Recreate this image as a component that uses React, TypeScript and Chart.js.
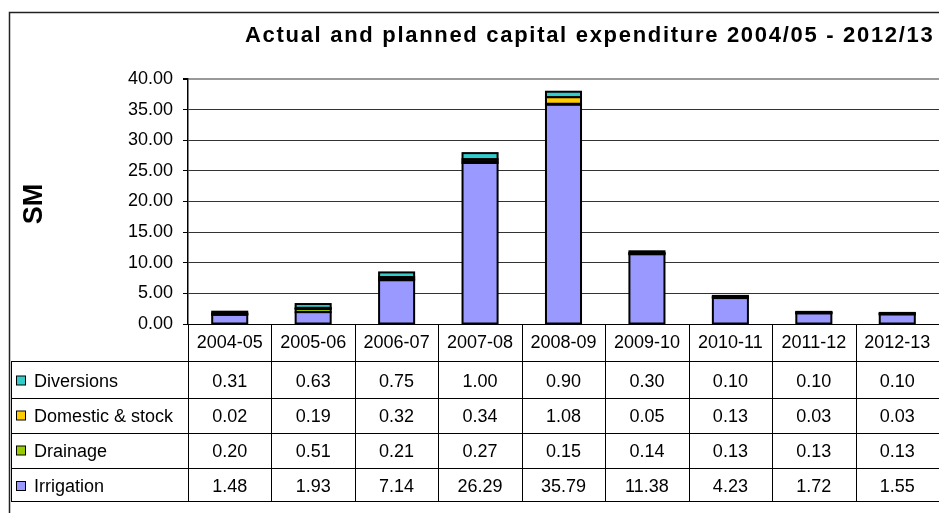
import React, { useEffect, useRef } from "react";
import { Chart, registerables } from "chart.js";

Chart.register(...registerables);

const categories = ["2004-05", "2005-06", "2006-07", "2007-08", "2008-09", "2009-10", "2010-11", "2011-12", "2012-13"];
const diversions = [0.31, 0.63, 0.75, 1.0, 0.9, 0.3, 0.1, 0.1, 0.1];
const domesticStock = [0.02, 0.19, 0.32, 0.34, 1.08, 0.05, 0.13, 0.03, 0.03];
const drainage = [0.2, 0.51, 0.21, 0.27, 0.15, 0.14, 0.13, 0.13, 0.13];
const irrigation = [1.48, 1.93, 7.14, 26.29, 35.79, 11.38, 4.23, 1.72, 1.55];

const titleText = "Actual and planned capital expenditure 2004/05 - 2012/13";
const yAxisTitle = "SM";

const FONT = "'Liberation Sans', Arial, sans-serif";

const tableRows = [
  { label: "Diversions", values: diversions, color: "#33CCCC" },
  { label: "Domestic & stock", values: domesticStock, color: "#FFCC00" },
  { label: "Drainage", values: drainage, color: "#99CC00" },
  { label: "Irrigation", values: irrigation, color: "#9999FF" },
];

const barOutlinePlugin = {
  id: "barOutline",
  afterDatasetDraw(chart: any, args: any) {
    const ctx = chart.ctx as CanvasRenderingContext2D;
    const meta = args.meta;
    ctx.save();
    ctx.strokeStyle = "#000";
    ctx.lineWidth = 2;
    for (const el of meta.data) {
      const p = el.getProps(["x", "y", "base", "width"], true);
      const top = Math.min(p.y, p.base);
      const h = Math.abs(p.base - p.y);
      ctx.strokeRect(p.x - p.width / 2, top, p.width, h);
    }
    ctx.restore();
  },
};

const decorPlugin = {
  id: "decor",
  afterDraw(chart: any) {
    const ctx = chart.ctx as CanvasRenderingContext2D;
    const area = chart.chartArea;
    const W = chart.width;
    ctx.save();
    // outer frame
    ctx.strokeStyle = "#222";
    ctx.lineWidth = 1.5;
    ctx.beginPath();
    ctx.moveTo(9.5, 600);
    ctx.lineTo(9.5, 12.5);
    ctx.lineTo(W + 10, 12.5);
    ctx.stroke();

    // title
    ctx.fillStyle = "#000";
    ctx.font = `bold 22px ${FONT}`;
    (ctx as any).letterSpacing = "1.7px";
    ctx.textAlign = "left";
    ctx.textBaseline = "alphabetic";
    ctx.fillText(titleText, 245, 42);
    (ctx as any).letterSpacing = "0px";

    // y axis title
    ctx.save();
    ctx.translate(42, 204);
    ctx.rotate(-Math.PI / 2);
    ctx.font = `bold 27px ${FONT}`;
    ctx.textAlign = "center";
    ctx.fillText(yAxisTitle, 0, 0);
    ctx.restore();

    // data table
    const n = categories.length;
    const colW = (area.right - area.left) / n;
    const rowLines = [361, 398, 433, 468, 501];
    const baselines = [386.5, 421.5, 456.5, 492];
    ctx.strokeStyle = "#000";
    ctx.lineWidth = 1;
    ctx.beginPath();
    for (let i = 0; i < n; i++) {
      const x = Math.round(area.left + i * colW) + 0.5;
      ctx.moveTo(x, area.bottom);
      ctx.lineTo(x, 501);
    }
    for (const y of rowLines) {
      ctx.moveTo(11, y + 0.5);
      ctx.lineTo(W, y + 0.5);
    }
    ctx.moveTo(11.5, 361);
    ctx.lineTo(11.5, 501);
    ctx.stroke();

    ctx.font = `18px ${FONT}`;
    ctx.textAlign = "center";
    ctx.fillStyle = "#000";
    for (let i = 0; i < n; i++) {
      const cx = area.left + (i + 0.5) * colW;
      ctx.fillText(categories[i], cx, 348);
    }
    tableRows.forEach((row, r) => {
      const by = baselines[r];
      ctx.textAlign = "center";
      ctx.fillStyle = "#000";
      for (let i = 0; i < n; i++) {
        const cx = area.left + (i + 0.5) * colW;
        ctx.fillText(row.values[i].toFixed(2), cx, by);
      }
      ctx.fillStyle = row.color;
      ctx.fillRect(16.5, by - 10.5, 9, 9);
      ctx.strokeStyle = "#000";
      ctx.strokeRect(16.5, by - 10.5, 9, 9);
      ctx.fillStyle = "#000";
      ctx.textAlign = "left";
      ctx.fillText(row.label, 34, by);
    });
    ctx.restore();
  },
};

export default function App() {
  const ref = useRef<HTMLCanvasElement | null>(null);
  useEffect(() => {
    if (!ref.current) return;
    const stackOrder = [...tableRows].reverse();
    const chart = new Chart(ref.current, {
      type: "bar",
      data: {
        labels: categories,
        datasets: stackOrder.map((r) => ({
          label: r.label,
          data: r.values,
          backgroundColor: r.color,
          borderWidth: 0,
          barPercentage: 0.42,
          categoryPercentage: 1,
        })),
      },
      options: {
        responsive: false,
        animation: false,
        layout: { padding: { left: 9, top: 79, right: 0, bottom: 0 } },
        plugins: { legend: { display: false }, tooltip: { enabled: false }, title: { display: false } },
        scales: {
          x: {
            stacked: true,
            grid: { display: false },
            border: { display: true, color: "#000", width: 1 },
            ticks: { display: false },
            afterFit: (s: any) => {
              s.height = 189;
            },
          },
          y: {
            stacked: true,
            min: 0,
            max: 40,
            ticks: {
              stepSize: 5,
              color: "#000",
              padding: 10,
              font: { family: FONT, size: 18 },
              callback: (v: any) => Number(v).toFixed(2),
            },
            grid: {
              color: (c: any) => (c.tick && c.tick.value === 40 ? "#999" : "#333"),
              lineWidth: (c: any) => (c.tick && c.tick.value === 40 ? 2 : 1),
              tickLength: 5,
              tickColor: "#000",
            },
            border: { display: true, color: "#000", width: 1.5 },
            afterFit: (s: any) => {
              s.width = 179;
            },
          },
        },
      },
      plugins: [barOutlinePlugin, decorPlugin],
    });
    return () => chart.destroy();
  }, []);
  return (
    <div style={{ position: "fixed", left: 0, top: 0, width: 939, height: 513, background: "#fff" }}>
      <canvas ref={ref} width={939} height={513} style={{ display: "block" }} />
    </div>
  );
}
